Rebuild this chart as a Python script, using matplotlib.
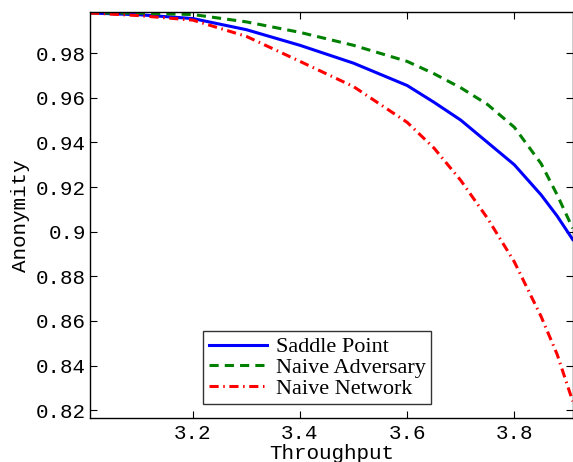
import matplotlib

matplotlib.use("Agg")
import matplotlib.pyplot as plt
from matplotlib.ticker import FormatStrFormatter

# values
throughput = [3.008, 3.1, 3.2, 3.3, 3.4, 3.5, 3.6, 3.65, 3.7, 3.75, 3.8, 3.85, 3.88, 3.909]
saddle = [0.998, 0.9972, 0.9955, 0.9905, 0.9835, 0.9755, 0.9655, 0.958, 0.950, 0.940, 0.930, 0.9165, 0.907, 0.8965]
naive_adv = [0.998, 0.9979, 0.9973, 0.9940, 0.9893, 0.9835, 0.9763, 0.9708, 0.9645, 0.957, 0.9468, 0.9305, 0.9165, 0.9015]
naive_net = [0.998, 0.9968, 0.9948, 0.9875, 0.9763, 0.965, 0.949, 0.9375, 0.923, 0.906, 0.8865, 0.862, 0.845, 0.824]

xticks = [3.2, 3.4, 3.6, 3.8]
yticks = [0.82, 0.84, 0.86, 0.88, 0.9, 0.92, 0.94, 0.96, 0.98]

MONO = "Liberation Mono"
SERIF = "Liberation Serif"

fig = plt.figure(figsize=(5.73, 4.62), dpi=100)
ax = fig.add_axes([0.157, 0.0946, 0.8425, 0.8788])

ax.plot(throughput, saddle, color="#0000ff", linestyle="-", linewidth=2.2, label="Saddle Point")
ax.plot(throughput, naive_adv, color="#008000", linestyle=(0, (3, 2)), linewidth=2.2, label="Naive Adversary")
ax.plot(throughput, naive_net, color="#ff0000", linestyle=(0, (3, 1.5, 0.5, 1.5)), linewidth=2.2,
        label="Naive Network")

ax.set_xlim(3.008, 3.909)
ax.set_ylim(0.8164, 0.9983)
ax.set_xticks(xticks)
ax.set_yticks(yticks)
ax.yaxis.set_major_formatter(FormatStrFormatter("%g"))
ax.tick_params(direction="in", top=True, right=True, length=5, width=0.8, labelsize=15)
ax.tick_params(axis="x", pad=4)
ax.tick_params(axis="y", pad=3)
for lab in ax.get_xticklabels() + ax.get_yticklabels():
    lab.set_family(MONO)
for s in ax.spines.values():
    s.set_linewidth(1.0)

ax.set_xlabel("Throughput", family=MONO, fontsize=15)
ax.xaxis.set_label_coords(0.5, -0.064)
ax.set_ylabel("Anonymity", family=MONO, fontsize=15)
ax.yaxis.set_label_coords(-0.125, 0.5)

leg = ax.legend(loc="lower left", bbox_to_anchor=(0.235, 0.035), prop={"family": SERIF, "size": 16},
                frameon=True, fancybox=False, edgecolor="black", handlelength=2.6,
                labelspacing=0.0, borderpad=0.25, handletextpad=0.4, borderaxespad=0)
leg.get_frame().set_linewidth(1.0)

fig.savefig("out.png", dpi=100)
